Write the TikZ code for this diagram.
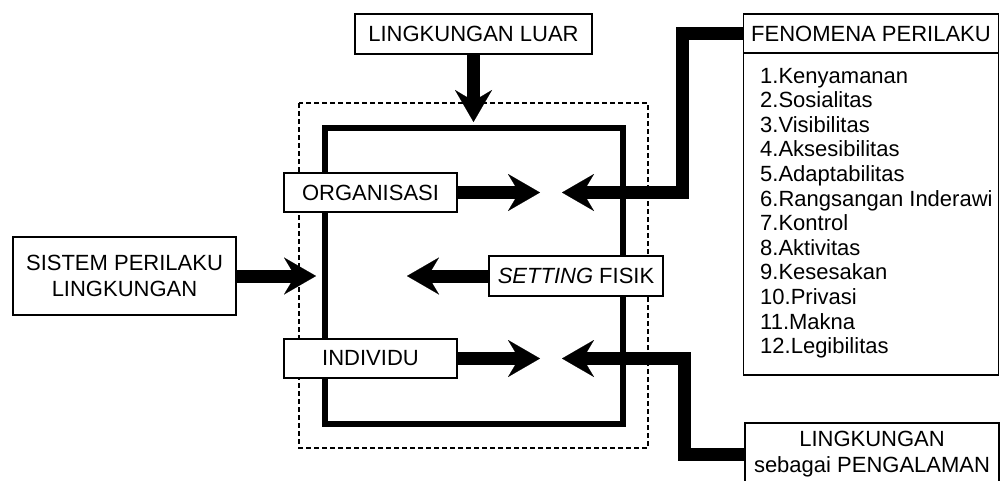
\documentclass[tikz,border=0pt]{standalone}
\usepackage{fontspec}
\setmainfont{Liberation Sans}
\usetikzlibrary{arrows.meta}
\begin{document}
\begin{tikzpicture}[x=1pt,y=-1pt,
  box/.style={draw,line width=1.8pt,fill=white,inner sep=0pt,font=\fontsize{22}{25.5}\selectfont,align=center},
  bigarrow/.style={line width=13pt,line join=miter,-{Stealth[length=32pt,width=37pt,inset=11pt,line width=0.1pt]}},
  solidframe/.style={line width=6pt,line join=miter},
  dashframe/.style={line width=2.4pt,dash pattern=on 5pt off 3pt},
  listitem/.style={anchor=base west,inner sep=0pt,font=\fontsize{22}{24.6}\selectfont}]
\clip (0,0) rectangle (1000,480);
\fill[white] (0,0) rectangle (1000,480);
% frames
\draw[dashframe] (299,103) rectangle (648,448);
\draw[solidframe] (325,127.5) rectangle (622.5,424);
% free arrow ends
\coordinate (tLuar) at (473.5,122);
\coordinate (tOrg) at (540,192.5);
\coordinate (tInd) at (540,358.5);
\coordinate (tSis) at (316,276);
\coordinate (tSet) at (407,276);
\coordinate (tOrgR) at (562,192.5);
\coordinate (tIndR) at (562,358.5);
\coordinate (jo) at (682,192.5);
\coordinate (ji) at (684,358.5);
% boxes
\node[box,minimum width=237pt,minimum height=40pt] (luar) at (473.5,34) {LINGKUNGAN LUAR};
\node[box,minimum width=173pt,minimum height=39pt] (org) at (370.5,192.5) {ORGANISASI};
\node[box,minimum width=173pt,minimum height=39pt] (ind) at (370.5,358.5) {INDIVIDU};
\node[box,minimum width=174pt,minimum height=40pt] (set) at (576,276) {\textit{SETTING} FISIK};
\node[box,minimum width=223pt,minimum height=78pt] (sis) at (124.5,276) {SISTEM PERILAKU\\LINGKUNGAN};
\node[box,minimum width=255pt,minimum height=322pt] (fenbox) at (871,214) {};
\node[box,minimum width=255pt,minimum height=39pt] (fenhead) at (871,33.5) {FENOMENA PERILAKU};
\node[box,minimum width=254pt,minimum height=62pt] (lpeng) at (872,454) {LINGKUNGAN\\sebagai PENGALAMAN};
% list
\foreach \t [count=\i] in {1.Kenyamanan,2.Sosialitas,3.Visibilitas,4.Aksesibilitas,5.Adaptabilitas,6.Rangsangan Inderawi,7.Kontrol,8.Aktivitas,9.Kesesakan,10.Privasi,11.Makna,12.Legibilitas}
  \node[listitem] (item\i) at (760,{83+24.6*(\i-1)}) {\t};
% arrows
\draw[bigarrow] (luar.south) -- (tLuar);
\draw[bigarrow] (org.east) -- (tOrg);
\draw[bigarrow] (ind.east) -- (tInd);
\draw[bigarrow] (sis.east) -- (tSis);
\draw[bigarrow] (set.west) -- (tSet);
\draw[bigarrow] (fenhead.west) -| (jo) -- (tOrgR);
\draw[bigarrow] (lpeng.west) -| (ji) -- (tIndR);
\end{tikzpicture}
\end{document}
